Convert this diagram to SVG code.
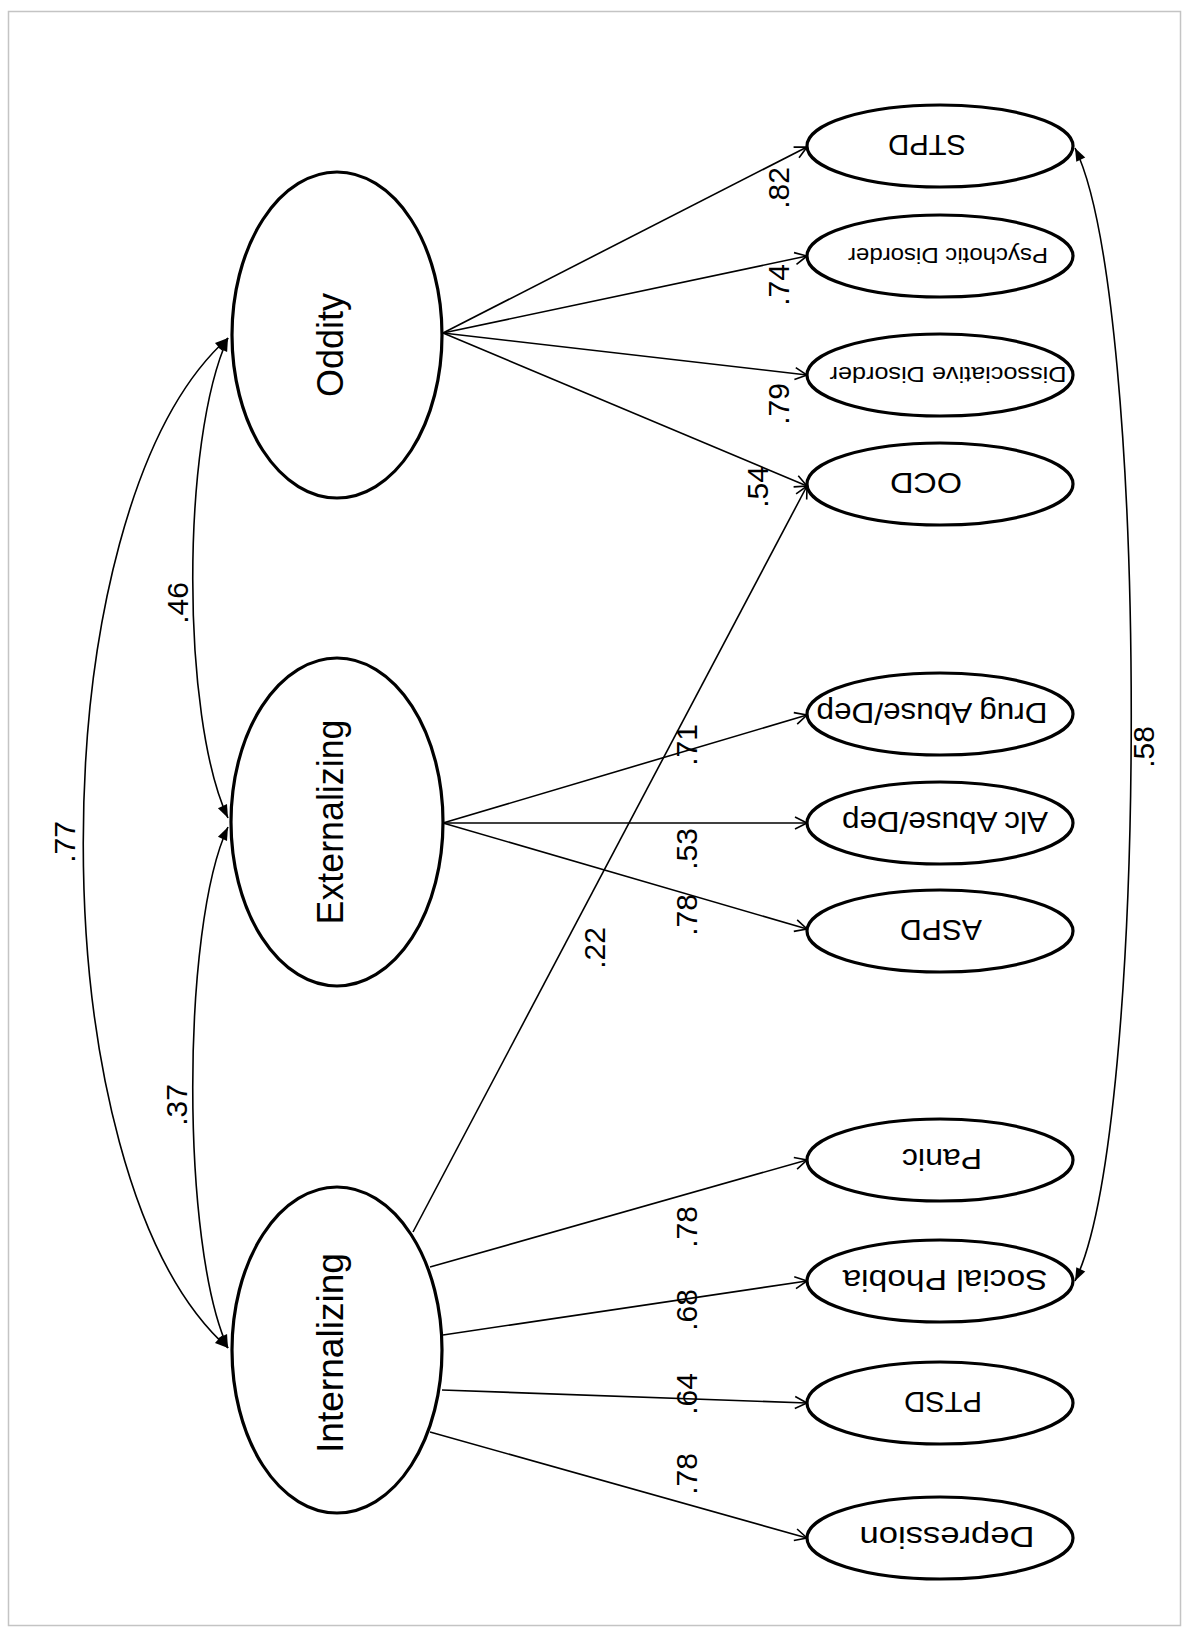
<svg xmlns="http://www.w3.org/2000/svg" width="1182" height="1627" viewBox="0 0 1182 1627">
<style>
  .lat{fill:#fff;stroke:#000;stroke-width:3.2}
  .obs{fill:#fff;stroke:#000;stroke-width:3.2}
  .lt{font-family:"Liberation Sans",Arial,sans-serif;font-size:36px;fill:#000;text-anchor:middle}
  .ot{font-family:"Liberation Sans",Arial,sans-serif;font-size:30px;fill:#000;text-anchor:middle}
  .os{font-family:"Liberation Sans",Arial,sans-serif;font-size:22px;fill:#000;text-anchor:middle}
  .lab{font-family:"Liberation Sans",Arial,sans-serif;font-size:30px;fill:#000;text-anchor:middle}
  .ld{fill:none;stroke:#000;stroke-width:1.6;marker-end:url(#open)}
  .cv{fill:none;stroke:#000;stroke-width:1.6;marker-start:url(#solid);marker-end:url(#solid)}
</style>
<defs>
  <marker id="open" viewBox="0 0 14 14" refX="13" refY="7" markerWidth="14" markerHeight="14" markerUnits="userSpaceOnUse" orient="auto" overflow="visible">
    <path d="M1,1 L13,7 L1,13" fill="none" stroke="#000" stroke-width="1.6"/>
  </marker>
  <marker id="solid" viewBox="0 0 13 10" refX="13" refY="5" markerWidth="13" markerHeight="10" markerUnits="userSpaceOnUse" orient="auto-start-reverse" overflow="visible">
    <path d="M0,0 L13,5 L0,10 z" fill="#000"/>
  </marker>
</defs>
<rect x="0" y="0" width="1182" height="1627" fill="#fff"/>
<rect x="8.5" y="11.5" width="1172" height="1614" fill="none" stroke="#c4c4c4" stroke-width="1.5"/>

<g id="connectors">
  <!-- Oddity loadings -->
  <line class="ld" x1="443" y1="333" x2="807" y2="147"/>
  <line class="ld" x1="443" y1="333" x2="807" y2="256"/>
  <line class="ld" x1="443" y1="333" x2="807" y2="375"/>
  <line class="ld" x1="443" y1="333" x2="807" y2="486"/>
  <!-- Externalizing loadings -->
  <line class="ld" x1="443" y1="823" x2="807" y2="715"/>
  <line class="ld" x1="443" y1="823" x2="807" y2="823"/>
  <line class="ld" x1="443" y1="823" x2="807" y2="929"/>
  <!-- Internalizing loadings -->
  <line class="ld" x1="413" y1="1232" x2="807" y2="486"/>
  <line class="ld" x1="430" y1="1267" x2="807" y2="1160"/>
  <line class="ld" x1="443" y1="1335" x2="807" y2="1281"/>
  <line class="ld" x1="442" y1="1390" x2="807" y2="1403"/>
  <line class="ld" x1="430" y1="1432" x2="807" y2="1538"/>
  <!-- covariances -->
  <path class="cv" d="M228,338 C35,510 35,1177 228,1348"/>
  <path class="cv" d="M228,338 C181,440 181,718 228,818"/>
  <path class="cv" d="M228,827 C181,927 181,1247 228,1348"/>
  <path class="cv" d="M1075,148 C1150,300 1150,1130 1075,1281"/>
  <!-- labels -->
  <g class="lab">
    <text transform="translate(789,188) rotate(-90)">.82</text>
    <text transform="translate(789,285) rotate(-90)">.74</text>
    <text transform="translate(789,404) rotate(-90)">.79</text>
    <text transform="translate(768,487) rotate(-90)">.54</text>
    <text transform="translate(697,745) rotate(-90)">.71</text>
    <text transform="translate(697,849) rotate(-90)">.53</text>
    <text transform="translate(697,915) rotate(-90)">.78</text>
    <text transform="translate(605,948) rotate(-90)">.22</text>
    <text transform="translate(697,1227) rotate(-90)">.78</text>
    <text transform="translate(697,1310) rotate(-90)">.68</text>
    <text transform="translate(697,1394) rotate(-90)">.64</text>
    <text transform="translate(697,1474) rotate(-90)">.78</text>
    <text transform="translate(188,603) rotate(-90)">.46</text>
    <text transform="translate(187,1105) rotate(-90)">.37</text>
    <text transform="translate(75,842) rotate(-90)">.77</text>
    <text transform="translate(1154,747) rotate(-90)">.58</text>
  </g>
</g>

<g id="oddity">
  <ellipse class="lat" cx="337" cy="335" rx="105" ry="163"/>
  <text class="lt" transform="translate(343,345) rotate(-90)">Oddity</text>
</g>
<g id="externalizing">
  <ellipse class="lat" cx="337" cy="822" rx="106" ry="164"/>
  <text class="lt" transform="translate(343,822) rotate(-90)" textLength="205" lengthAdjust="spacingAndGlyphs">Externalizing</text>
</g>
<g id="internalizing">
  <ellipse class="lat" cx="337" cy="1350" rx="105" ry="163"/>
  <text class="lt" transform="translate(343,1353) rotate(-90)" textLength="200" lengthAdjust="spacingAndGlyphs">Internalizing</text>
</g>

<g id="stpd">
  <ellipse class="obs" cx="940" cy="146" rx="133" ry="41"/>
  <text class="ot" transform="translate(927,146) rotate(180)" y="11" textLength="78" lengthAdjust="spacingAndGlyphs">STPD</text>
</g>
<g id="psychotic">
  <ellipse class="obs" cx="940" cy="256" rx="133" ry="41"/>
  <text class="os" transform="translate(948,256) rotate(180)" y="8" textLength="200" lengthAdjust="spacingAndGlyphs">Psychotic  Disorder</text>
</g>
<g id="dissociative">
  <ellipse class="obs" cx="940" cy="375" rx="133" ry="41"/>
  <text class="os" transform="translate(948,375) rotate(180)" y="8" textLength="237" lengthAdjust="spacingAndGlyphs">Dissociative Disorder</text>
</g>
<g id="ocd">
  <ellipse class="obs" cx="940" cy="484" rx="133" ry="41"/>
  <text class="ot" transform="translate(926,484) rotate(180)" y="11" textLength="72" lengthAdjust="spacingAndGlyphs">OCD</text>
</g>
<g id="drug">
  <ellipse class="obs" cx="940" cy="714" rx="133" ry="41"/>
  <text class="ot" transform="translate(932,714) rotate(180)" y="11" textLength="231" lengthAdjust="spacingAndGlyphs">Drug Abuse/Dep</text>
</g>
<g id="alc">
  <ellipse class="obs" cx="940" cy="823" rx="133" ry="41"/>
  <text class="ot" transform="translate(945,823) rotate(180)" y="11" textLength="206" lengthAdjust="spacingAndGlyphs">Alc Abuse/Dep</text>
</g>
<g id="aspd">
  <ellipse class="obs" cx="940" cy="931" rx="133" ry="41"/>
  <text class="ot" transform="translate(941,931) rotate(180)" y="11" textLength="82" lengthAdjust="spacingAndGlyphs">ASPD</text>
</g>
<g id="panic">
  <ellipse class="obs" cx="940" cy="1160" rx="133" ry="41"/>
  <text class="ot" transform="translate(942,1160) rotate(180)" y="11" textLength="80" lengthAdjust="spacingAndGlyphs">Panic</text>
</g>
<g id="socialphobia">
  <ellipse class="obs" cx="940" cy="1281" rx="133" ry="41"/>
  <text class="ot" transform="translate(945,1281) rotate(180)" y="11" textLength="205" lengthAdjust="spacingAndGlyphs">Social Phobia</text>
</g>
<g id="ptsd">
  <ellipse class="obs" cx="940" cy="1403" rx="133" ry="41"/>
  <text class="ot" transform="translate(943,1403) rotate(180)" y="11" textLength="78" lengthAdjust="spacingAndGlyphs">PTSD</text>
</g>
<g id="depression">
  <ellipse class="obs" cx="940" cy="1538" rx="133" ry="41"/>
  <text class="ot" transform="translate(947,1538) rotate(180)" y="11" textLength="175" lengthAdjust="spacingAndGlyphs">Depression</text>
</g>
</svg>
